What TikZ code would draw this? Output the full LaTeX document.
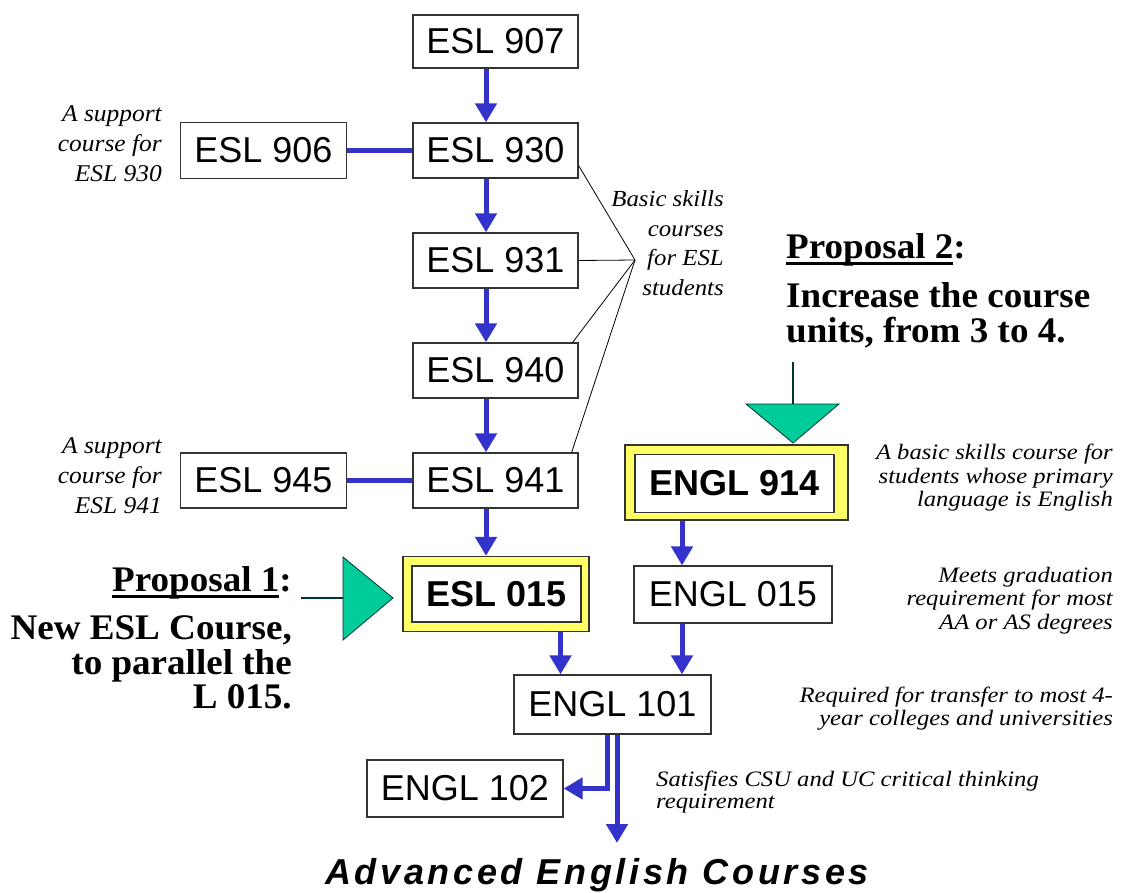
\documentclass[tikz,border=0pt]{standalone}
\usepackage{fontspec}
\setmainfont{Liberation Serif}
\newfontfamily\arialf{Liberation Sans}
\newfontfamily\advf[LetterSpace=10.3]{Liberation Sans}
\newfontfamily\noteAf[FakeStretch=1.06]{Liberation Serif}
\newfontfamily\noteBf[FakeStretch=1.08]{Liberation Serif}
\newfontfamily\noteCf[FakeStretch=1.12]{Liberation Serif}
\newfontfamily\propf[FakeStretch=1.03]{Liberation Serif}
\usetikzlibrary{arrows.meta}

% underlined heading word: rule 4pt to 7pt below the baseline
\newcommand{\propul}[1]{\setbox0=\hbox{#1}\rlap{\rule[-7pt]{\wd0}{3pt}}\box0}

\definecolor{flowblue}{HTML}{3333CC}
\definecolor{propgreen}{HTML}{00CC99}
\definecolor{hiyellow}{HTML}{FFFF66}
\definecolor{boxline}{HTML}{333333}
\definecolor{stemline}{HTML}{003333}

\tikzset{
  course/.style={draw=boxline, line width=1.3pt, fill=white, inner sep=0pt,
    minimum width=165pt, minimum height=55pt,
    font=\arialf\fontsize{36}{40}\selectfont},
  coursebold/.style={course, font=\arialf\bfseries\fontsize{36}{40}\selectfont},
  hiframe/.style={draw=boxline, line width=1.3pt, fill=hiyellow, inner sep=0pt},
  flow/.style={draw=flowblue, line width=5pt, -{Triangle[length=19pt,width=21pt]}},
  link/.style={draw=flowblue, line width=5pt},
  pointer/.style={draw=black, line width=0.8pt},
  noteA/.style={inner sep=0pt, align=right, font=\noteAf\itshape\fontsize{24}{30}\selectfont},
  noteB/.style={inner sep=0pt, align=right, font=\noteBf\itshape\fontsize{23}{29.5}\selectfont},
  noteC/.style={inner sep=0pt, font=\noteCf\itshape\fontsize{22}{23.5}\selectfont},
  proposal/.style={inner sep=0pt, font=\propf\bfseries\fontsize{36}{34.5}\selectfont},
  wedge/.style={fill=propgreen, draw=stemline, line width=0.8pt},
  stem/.style={draw=stemline, line width=2pt},
}

\begin{document}
\begin{tikzpicture}[x=1pt, y=-1pt]
  % page area
  \fill[white] (0,0) rectangle (1126,892);
  \useasboundingbox (0,0) rectangle (1126,892);

  % ESL sequence
  \node[course, minimum height=53pt] (esl907) at (495.5,41.5) {ESL 907};
  \node[course] (esl930) at (495.5,150.5) {ESL 930};
  \node[course, minimum width=166pt, minimum height=56pt] (esl906) at (263.5,150.5) {ESL 906};
  \node[course] (esl931) at (495.5,260.5) {ESL 931};
  \node[course] (esl940) at (495.5,370.5) {ESL 940};
  \node[course] (esl941) at (495.5,480.5) {ESL 941};
  \node[course, minimum width=166pt] (esl945) at (263.5,480.5) {ESL 945};

  % highlighted courses
  \node[hiframe, minimum width=186pt, minimum height=75pt] (esl015f) at (496,594) {};
  \node[coursebold, minimum width=169pt, minimum height=56pt] (esl015) at (496.5,594) {ESL 015};
  \node[hiframe, minimum width=223pt, minimum height=75pt] (engl914f) at (736.5,482.5) {};
  \node[coursebold, minimum width=199pt, minimum height=58pt] (engl914) at (734.5,483.5) {ENGL 914};

  % English sequence
  \node[course, minimum width=198pt, minimum height=57pt] (engl015) at (733,594.5) {ENGL 015};
  \node[course, minimum width=197pt, minimum height=59pt] (engl101) at (612.5,704.5) {ENGL 101};
  \node[course, minimum width=196pt, minimum height=57pt] (engl102) at (465,788.5) {ENGL 102};
  \node[inner sep=0pt, anchor=base] (adv) at (597,884)
    {\advf\bfseries\itshape\fontsize{36}{40}\selectfont Advanced English Courses};
  \coordinate (advtip) at (617,843);

  % prerequisite arrows
  \draw[flow] ([xshift=-9.5pt]esl907.south) -- ([xshift=-9.5pt]esl930.north);
  \draw[flow] ([xshift=-9.5pt]esl930.south) -- ([xshift=-9.5pt]esl931.north);
  \draw[flow] ([xshift=-9.5pt]esl931.south) -- ([xshift=-9.5pt]esl940.north);
  \draw[flow] ([xshift=-9.5pt]esl940.south) -- ([xshift=-9.5pt]esl941.north);
  \draw[flow] ([xshift=-9.5pt]esl941.south) -- ([xshift=-9.5pt]esl941.south |- esl015f.north);
  \draw[flow] ([xshift=64.5pt]esl015f.south) -- ([xshift=64.5pt]esl015f.south |- engl101.north);
  \draw[flow] ([xshift=-54.5pt]engl914f.south) -- ([xshift=-54.5pt]engl914f.south |- engl015.north);
  \draw[flow] ([xshift=-51pt]engl015.south) -- ([xshift=-51pt]engl015.south |- engl101.north);
  \draw[flow] ([xshift=-5.5pt]engl101.south) |- (engl102.east);
  \draw[flow] ([xshift=4.5pt]engl101.south) -- (advtip);

  % support courses
  \draw[link] (esl906.east) -- (esl930.west);
  \draw[link] (esl945.east) -- (esl941.west);

  % notes
  \node[noteA, anchor=north east] (sup930) at (162,100)
    {\strut A support\\course for\\ESL 930};
  \node[noteA, anchor=north east] (sup941) at (162,432)
    {\strut A support\\course for\\ESL 941};
  \node[noteB, anchor=north east] (basic) at (724,185.9)
    {\strut Basic skills\\courses\\for ESL\\students};
  \coordinate (basicpt) at (635,260);
  \draw[pointer] (basicpt) -- ([yshift=13pt]esl930.south east);
  \draw[pointer] (basicpt) -- (esl931.east);
  \draw[pointer] (basicpt) -- ([xshift=-6pt]esl940.north east);
  \draw[pointer] (basicpt) -- ([xshift=-7pt]esl941.north east);

  \node[noteC, align=right, anchor=north east] (n914) at (1113,443.2)
    {\strut A basic skills course for\\students whose primary\\language is English};
  \node[noteC, align=right, anchor=north east] (n015) at (1113,565.5)
    {\strut Meets graduation\\requirement for most\\AA or AS degrees};
  \node[noteC, align=right, anchor=north east] (n101) at (1113,685.5)
    {\strut Required for transfer to most 4-\\year colleges and universities};
  \node[noteC, align=left, anchor=north west, font=\noteCf\itshape\fontsize{22}{22.5}\selectfont] (n102) at (656,770.2)
    {\strut Satisfies CSU and UC critical thinking\\requirement};

  % proposal 1
  \node[proposal, align=right, anchor=north east] (prop1) at (292,565.9)
    {\strut\propul{Proposal 1}:\\[14pt]New ESL Course,\\to parallel the\\L 015.};
  \coordinate (stem1) at (301,598);
  \coordinate (tip1) at (393,598);
  \draw[stem] (stem1) -- (343,598);
  \draw[wedge] (343,557) -- (tip1) -- (343,640) -- cycle;

  % proposal 2
  \node[proposal, align=left, anchor=north west] (prop2) at (786,232.9)
    {\strut\propul{Proposal 2}:\\[13.5pt]Increase the course\\units, from 3 to 4.};
  \coordinate (stem2) at (793,362);
  \coordinate (tip2) at (793,443);
  \draw[stem] (stem2) -- (793,404);
  \draw[wedge] (746,404) -- (tip2) -- (839,404) -- cycle;
\end{tikzpicture}
\end{document}
